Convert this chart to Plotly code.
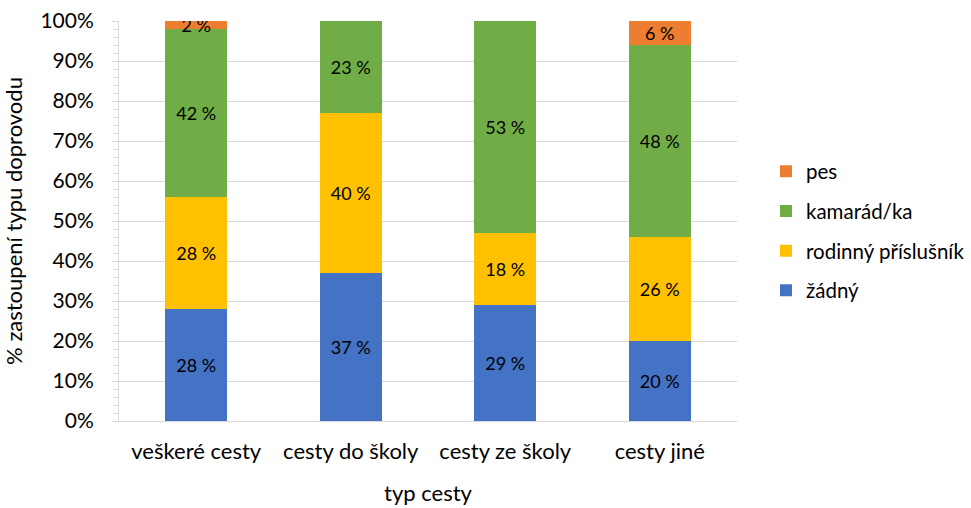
import plotly.graph_objects as go

# Route types (x categories)
categories = ["veškeré cesty", "cesty do školy", "cesty ze školy", "cesty jiné"]

# Share of each escort type per route type, in percent
zadny = [28, 37, 29, 20]
rodinny = [28, 40, 18, 26]
kamarad = [42, 23, 53, 48]
pes = [2, 0, 0, 6]

series = [
    ("žádný", zadny, "#4472C4"),
    ("rodinný příslušník", rodinny, "#FFC000"),
    ("kamarád/ka", kamarad, "#70AD47"),
    ("pes", pes, "#ED7D31"),
]

FONT = "Lato, Carlito, Calibri, sans-serif"
GRID = "#d9d9d9"

fig = go.Figure()
n = len(series)
for i, (name, vals, color) in enumerate(series):
    fig.add_trace(go.Bar(
        name=name,
        x=categories,
        y=vals,
        marker=dict(color=color, line=dict(width=0)),
        text=[f"{v} %" if v else "" for v in vals],
        texttemplate="%{text}",
        textposition="inside",
        insidetextanchor="middle",
        textangle=0,
        textfont=dict(family=FONT, size=18, color="black"),
        legendgroup=str(i),
        legendrank=n - i,
        hoverinfo="skip",
    ))

fig.update_layout(
    barmode="stack",
    bargap=0.6,
    width=971,
    height=508,
    margin=dict(l=119, r=234, t=21, b=87, autoexpand=False),
    paper_bgcolor="white",
    plot_bgcolor="white",
    font=dict(family=FONT, size=20, color="black"),
    uniformtext=dict(minsize=18, mode="show"),
    showlegend=True,
    legend=dict(
        traceorder="grouped",
        tracegroupgap=10,
        xref="container", yref="container",
        x=766 / 971, xanchor="left",
        y=1 - 231 / 508, yanchor="middle",
        font=dict(family=FONT, size=20.5, color="black"),
        itemwidth=30,
        bgcolor="rgba(0,0,0,0)",
    ),
)

fig.update_xaxes(
    automargin=False,
    showline=True, linecolor=GRID, linewidth=1,
    showgrid=False,
    ticks="",
    ticklabelstandoff=11,
    tickfont=dict(family=FONT, size=22),
    title=dict(text="typ cesty", font=dict(family=FONT, size=22), standoff=22),
)

fig.update_yaxes(
    automargin=False,
    range=[0, 100],
    dtick=10,
    ticksuffix="%",
    showline=True, linecolor=GRID, linewidth=1,
    showgrid=True, gridcolor=GRID, gridwidth=1,
    zeroline=False,
    ticks="outside", ticklen=6, tickcolor=GRID,
    ticklabelstandoff=14,
    tickfont=dict(family=FONT, size=21),
    minor=dict(dtick=2, ticks="outside", ticklen=5, tickcolor=GRID, showgrid=False),
    title=dict(text="% zastoupení typu doprovodu", font=dict(family=FONT, size=22), standoff=14),
)

fig.write_html("out.html")
